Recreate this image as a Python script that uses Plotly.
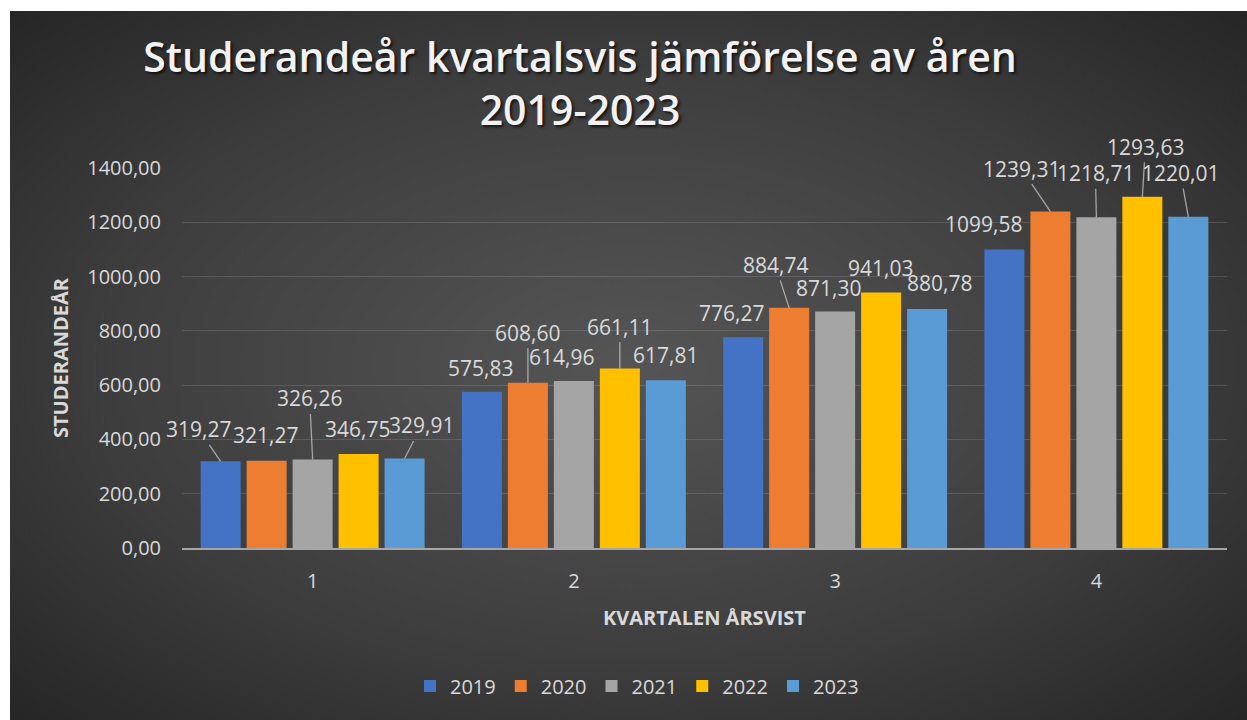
import base64
import plotly.graph_objects as go

# ---- data ----
quarters = [1, 2, 3, 4]
years = ["2019", "2020", "2021", "2022", "2023"]
v2019 = [319.27, 575.83, 776.27, 1099.58]
v2020 = [321.27, 608.60, 884.74, 1239.31]
v2021 = [326.26, 614.96, 871.30, 1218.71]
v2022 = [346.75, 661.11, 941.03, 1293.63]
v2023 = [329.91, 617.81, 880.78, 1220.01]
series = [v2019, v2020, v2021, v2022, v2023]
y_ticks = [0, 200, 400, 600, 800, 1000, 1200, 1400]

# ---- styles ----
colors = ["#4472C4", "#ED7D31", "#A5A5A5", "#FFC000", "#5B9BD5"]
TXT = "#D9D9D9"
FONT = "Open Sans"
W, H = 1247, 720
ML, MR, MT, MB = 182, 20, 168, 172
BARGAP = 0.12
GROUPGAP = 0.13

# label placement (pixel offsets of label centre from bar top; x right, y up) and leader flag
label_place = [
    [(-22, 32, True), (-1, 24, False), (-12, 24, False), (-21, 26, False)],
    [(-1, 26, False), (0, 50, True), (-14, 43, True), (-29, 43, True)],
    [(-3, 61, True), (-12, 24, False), (-7, 24, False), (-1, 44, True)],
    [(-1, 25, False), (0, 42, True), (-1, 25, False), (3, 50, True)],
    [(17, 33, True), (0, 25, False), (12, 26, False), (-8, 44, True)],
]


def fmt(v):
    return f"{v:.2f}".replace(".", ",")


fig = go.Figure()
for i, (yr, vals) in enumerate(zip(years, series)):
    fig.add_trace(go.Bar(
        x=quarters, y=vals, name=yr,
        marker=dict(color=colors[i], line=dict(width=0)),
        hoverinfo="skip",
    ))

# data labels
n = len(years)
slot = (1 - BARGAP) / n
for i, vals in enumerate(series):
    for q, v in enumerate(vals):
        dx, dy, leader = label_place[i][q]
        fig.add_annotation(
            x=quarters[q] + (i - (n - 1) / 2) * slot, y=v,
            xref="x", yref="y", text=fmt(v),
            showarrow=True, ax=dx, ay=-dy, axref="pixel", ayref="pixel",
            arrowhead=0, arrowwidth=1.3,
            arrowcolor="rgba(200,200,200,0.75)" if leader else "rgba(0,0,0,0)",
            standoff=0,
            font=dict(family=FONT, size=21, color=TXT),
        )

pw, ph = W - ML - MR, H - MT - MB

# axis titles
fig.add_annotation(
    x=(60 - ML) / pw, y=0.5, xref="paper", yref="paper",
    text="<b>STUDERANDEÅR</b>", textangle=-90, showarrow=False,
    font=dict(family=FONT, size=20, color=TXT),
    xanchor="center", yanchor="middle",
)
fig.add_annotation(
    x=0.5, y=(H - MB - 617) / ph, xref="paper", yref="paper",
    text="<b>KVARTALEN ÅRSVIST</b>", showarrow=False,
    font=dict(family=FONT, size=20, color=TXT),
    xanchor="center", yanchor="middle",
)

# gradient background as SVG image
svg = (
    '<svg xmlns="http://www.w3.org/2000/svg" width="1237" height="709" viewBox="0 0 1237 709">'
    '<defs><radialGradient id="g" cx="0.5" cy="0.5" r="0.75" fx="0.5" fy="0.5">'
    '<stop offset="0" stop-color="#555555"/>'
    '<stop offset="0.55" stop-color="#3e3e3e"/>'
    '<stop offset="1" stop-color="#222222"/>'
    '</radialGradient></defs>'
    '<rect width="1237" height="709" fill="url(#g)"/></svg>'
)
src = "data:image/svg+xml;base64," + base64.b64encode(svg.encode()).decode()
fig.add_layout_image(
    source=src, xref="paper", yref="paper",
    x=(10 - ML) / pw, y=(H - MB - 11) / ph,
    sizex=(W - 10) / pw, sizey=(H - 11) / ph,
    xanchor="left", yanchor="top", sizing="stretch", layer="below",
)

fig.update_layout(
    width=W, height=H,
    margin=dict(l=ML, r=MR, t=MT, b=MB),
    paper_bgcolor="white",
    plot_bgcolor="rgba(0,0,0,0)",
    barmode="group", bargap=BARGAP, bargroupgap=GROUPGAP,
    title=dict(
        text="Studerandeår kvartalsvis jämförelse av åren<br>2019-2023",
        x=580 / W, xref="container", xanchor="center",
        y=1 - 72 / H, yref="container", yanchor="middle",
        font=dict(family=FONT, size=41, color="#F2F2F2", weight=600,
                  shadow="2px 2px 3px rgba(0,0,0,0.7)"),
    ),
    showlegend=True,
    legend=dict(
        orientation="h", x=(637 - ML) / pw, xanchor="center",
        y=(H - MB - 686) / ph, yanchor="middle",
        font=dict(family=FONT, size=20, color=TXT),
        bgcolor="rgba(0,0,0,0)", itemwidth=30,
    ),
    xaxis=dict(
        range=[0.5, 4.5], tickvals=quarters, ticktext=[str(q) for q in quarters],
        showgrid=False, showline=True, linecolor="#A6A6A6", linewidth=2,
        ticks="", tickfont=dict(family=FONT, size=20, color=TXT),
        ticklabelstandoff=14, fixedrange=True,
    ),
    yaxis=dict(
        range=[0, 1400], tickvals=y_ticks, ticktext=[fmt(t) for t in y_ticks],
        showgrid=True, gridcolor="rgba(255,255,255,0.13)", gridwidth=1,
        zeroline=False, showline=False, ticks="",
        tickfont=dict(family=FONT, size=20, color=TXT),
        ticklabelstandoff=20, fixedrange=True,
    ),
)

fig.write_html(
    "out.html",
    config={"displayModeBar": False},
    post_script="document.body.style.margin='0';document.body.style.overflow='hidden';",
)
